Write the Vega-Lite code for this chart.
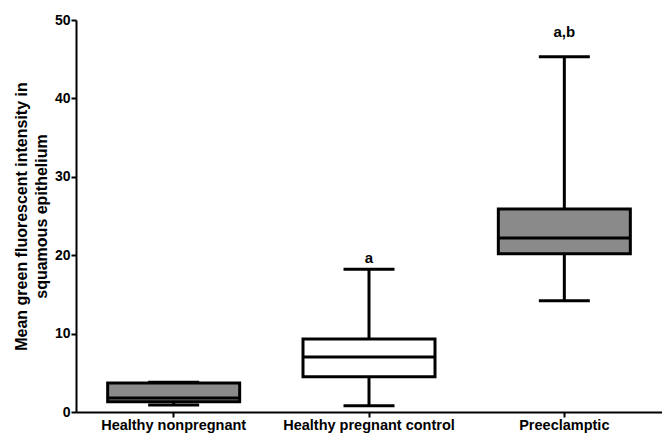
{
  "$schema": "https://vega.github.io/schema/vega-lite/v6.json",
  "width": 586,
  "height": 392,
  "autosize": "none",
  "padding": {"left": 76, "top": 20, "right": 0, "bottom": 23},
  "background": "white",
  "config": {
    "view": {"stroke": null},
    "font": "Liberation Sans"
  },
  "data": {
    "values": [
      {"group": "Healthy nonpregnant", "low": 0.9, "q1": 1.3, "median": 1.8, "q3": 3.7, "high": 3.8, "fill": "gray", "label": "", "labelY": 0},
      {"group": "Healthy pregnant control", "low": 0.8, "q1": 4.5, "median": 7.0, "q3": 9.3, "high": 18.2, "fill": "white", "label": "a", "labelY": 19.0},
      {"group": "Preeclamptic", "low": 14.2, "q1": 20.2, "median": 22.2, "q3": 25.9, "high": 45.3, "fill": "gray", "label": "a,b", "labelY": 47.8}
    ]
  },
  "encoding": {
    "x": {
      "field": "group", "type": "nominal", "sort": null,
      "scale": {"paddingInner": 0, "paddingOuter": 0},
      "axis": {
        "title": null, "labelAngle": 0, "labelFont": "Liberation Sans", "labelFontWeight": "bold",
        "labelFontSize": 14.5, "labelColor": "black", "domainColor": "black", "domainWidth": 2,
        "tickColor": "black", "tickWidth": 2, "tickSize": 5, "labelPadding": 1
      }
    }
  },
  "layer": [
    {
      "mark": {"type": "rule", "stroke": "black", "strokeWidth": 3},
      "encoding": {
        "y": {
          "field": "low", "type": "quantitative",
          "scale": {"domain": [0, 50], "nice": false},
          "axis": {
            "title": ["Mean green  fluorescent intensity in", "squamous epithelium"],
            "titleFont": "Liberation Sans", "titleFontWeight": "bold", "titleFontSize": 16, "titleColor": "black",
            "titleLineHeight": 20, "titlePadding": 5,
            "values": [0, 10, 20, 30, 40, 50], "grid": false,
            "labelFont": "Liberation Sans", "labelFontWeight": "bold", "labelFontSize": 14, "labelColor": "black",
            "domainColor": "black", "domainWidth": 2, "tickColor": "black", "tickWidth": 2, "tickSize": 5, "labelPadding": 1
          }
        },
        "y2": {"field": "high"}
      }
    },
    {
      "mark": {"type": "bar", "width": 132, "stroke": "black", "strokeWidth": 3},
      "encoding": {
        "y": {"field": "q1", "type": "quantitative"},
        "y2": {"field": "q3"},
        "fill": {"field": "fill", "type": "nominal", "scale": {"domain": ["gray", "white"], "range": ["#8a8a8a", "#ffffff"]}, "legend": null}
      }
    },
    {
      "mark": {"type": "tick", "size": 132, "thickness": 3, "color": "black", "opacity": 1},
      "encoding": {"y": {"field": "median", "type": "quantitative"}}
    },
    {
      "mark": {"type": "tick", "size": 51, "thickness": 3, "color": "black", "opacity": 1},
      "encoding": {"y": {"field": "high", "type": "quantitative"}}
    },
    {
      "mark": {"type": "tick", "size": 51, "thickness": 3, "color": "black", "opacity": 1},
      "encoding": {"y": {"field": "low", "type": "quantitative"}}
    },
    {
      "mark": {"type": "text", "font": "Liberation Sans", "fontWeight": "bold", "fontSize": 15, "baseline": "alphabetic", "color": "black"},
      "encoding": {
        "y": {"field": "labelY", "type": "quantitative"},
        "text": {"field": "label"}
      }
    }
  ]
}
